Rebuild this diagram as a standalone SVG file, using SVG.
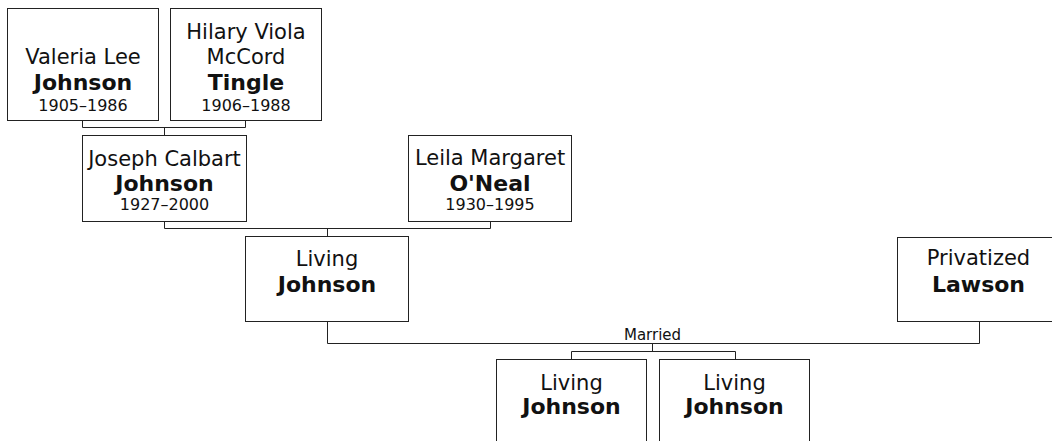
<svg xmlns="http://www.w3.org/2000/svg" width="1052" height="441" viewBox="0 0 1052 441">
<style>
.box{fill:#fff;stroke:#222;stroke-width:1}
.ln{fill:none;stroke:#222;stroke-width:1}
text{font-family:"DejaVu Sans",Verdana,sans-serif;fill:#111;text-anchor:middle}
.n{font-size:21px}
.b{font-size:22px;font-weight:bold}
.y{font-size:16px}
.m{font-size:15px}
</style>
<rect width="1052" height="441" fill="#fff"/>
<g id="connectors">
<path class="ln" d="M82.5,120.5V127.5H245.5V120.5M164.5,127.5V135.5"/>
<path class="ln" d="M164.5,221.5V228.5H490.5V221.5M327.5,228.5V236.5"/>
<path class="ln" d="M327.5,321.5V343.5H979.5V321.5M652.5,343.5V351.5M571.5,359.5V351.5H735.5V359.5"/>
<text class="m" x="652.5" y="340">Married</text>
</g>
<g id="valeria">
<rect class="box" x="7.5" y="8.5" width="151" height="112"/>
<text class="n" x="83" y="64">Valeria Lee</text>
<text class="b" x="83" y="90">Johnson</text>
<text class="y" x="83" y="110.5">1905–1986</text>
</g>
<g id="hilary">
<rect class="box" x="170.5" y="8.5" width="151" height="112"/>
<text class="n" x="246" y="38.5">Hilary Viola</text>
<text class="n" x="246" y="64">McCord</text>
<text class="b" x="246" y="89.5">Tingle</text>
<text class="y" x="246" y="110.5">1906–1988</text>
</g>
<g id="joseph">
<rect class="box" x="82.5" y="135.5" width="164" height="86"/>
<text class="n" x="164.5" y="165.5">Joseph Calbart</text>
<text class="b" x="164.5" y="190.5">Johnson</text>
<text class="y" x="164.5" y="210">1927–2000</text>
</g>
<g id="leila">
<rect class="box" x="408.5" y="135.5" width="163" height="86"/>
<text class="n" x="490" y="165">Leila Margaret</text>
<text class="b" x="490" y="191">O'Neal</text>
<text class="y" x="490" y="210">1930–1995</text>
</g>
<g id="living">
<rect class="box" x="245.5" y="236.5" width="163" height="85"/>
<text class="n" x="327" y="266">Living</text>
<text class="b" x="327" y="291.5">Johnson</text>
</g>
<g id="privatized">
<rect class="box" x="897.5" y="237.5" width="163" height="84"/>
<text class="n" x="978.5" y="265">Privatized</text>
<text class="b" x="978.5" y="291.5">Lawson</text>
</g>
<g id="child1">
<rect class="box" x="496.5" y="359.5" width="150" height="100"/>
<text class="n" x="571.5" y="390">Living</text>
<text class="b" x="571.5" y="414">Johnson</text>
</g>
<g id="child2">
<rect class="box" x="659.5" y="359.5" width="150" height="100"/>
<text class="n" x="734.5" y="390">Living</text>
<text class="b" x="734.5" y="414">Johnson</text>
</g>
</svg>
